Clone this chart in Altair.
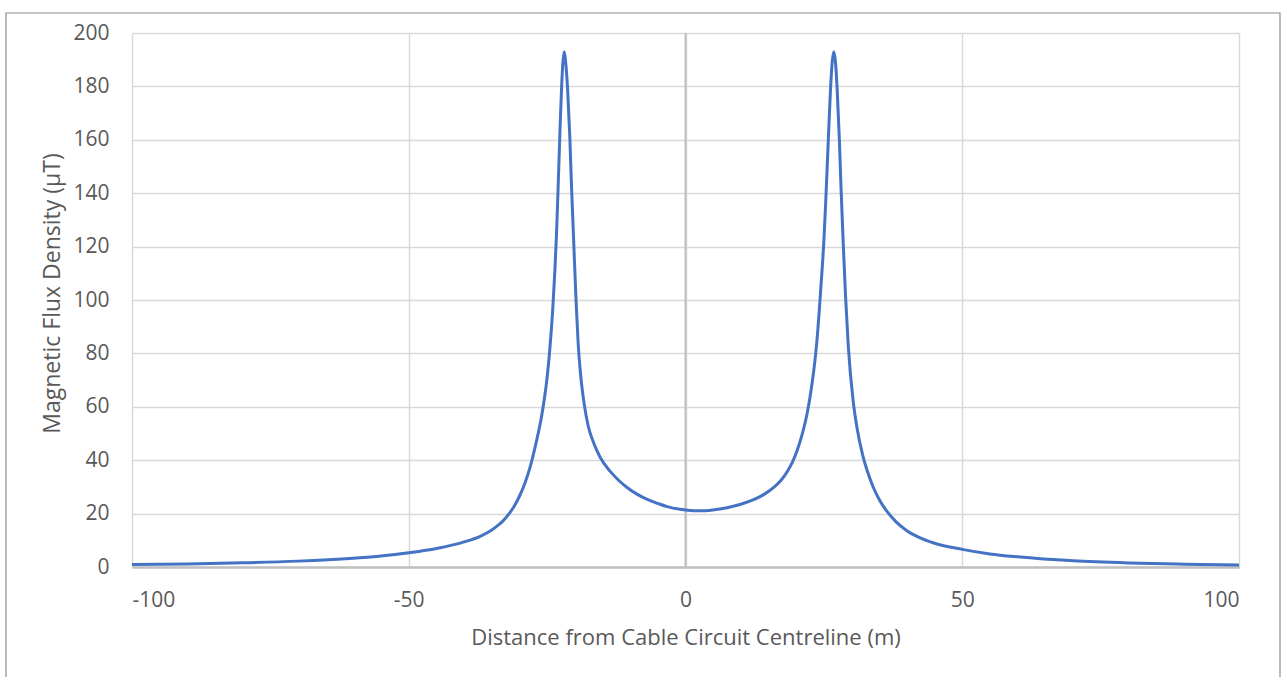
import altair as alt
import pandas as pd

# Distance from cable circuit centreline (m)
distance = [
    -100, -90, -80, -70, -60, -55, -50, -45, -40, -37, -35, -34, -33, -32, -31, -30,
    -29, -28, -27, -26, -25.5, -25, -24.5, -24, -23.6, -23.3, -23, -22.7, -22.4,
    -22.15, -21.9,
    -21.65, -21.3, -20.9, -20.6, -20.2, -19.8, -19.4, -18.9, -18.3, -17.6, -16.6,
    -15.4, -13.6, -12, -10.5, -8.7, -6.9, -5, -3.3, -1, 1.5, 3.5, 5.5, 7.5, 10,
    12.3, 14.2, 16, 17.3, 18.4, 19.3, 20.2, 21.2, 22, 22.6, 23.2, 23.8, 24.3,
    24.7, 25.0, 25.4, 25.8, 26.2, 26.5, 26.8,
    27.1, 27.4, 27.8, 28.1, 28.5, 28.9, 29.4, 30.3, 31, 32, 33, 34, 35, 36.4, 38,
    40, 42, 45, 50, 55, 60, 70, 80, 90, 100,
]

# Magnetic flux density (uT)
flux = [
    0.9, 1.15, 1.55, 2.2, 3.3, 4.1, 5.3, 6.9, 9.4, 11.6, 13.9, 15.4, 17.2, 19.6, 22.6, 26.5,
    31.5, 38, 46.5, 56.5, 63, 71, 82, 96, 111, 125, 143, 162, 179,
    189, 193,
    189, 179, 161, 143, 122, 101, 84, 71, 61, 53, 46.5,
    41, 35.8, 32.3, 29.7, 27.2, 25.3, 23.8, 22.6, 21.6, 21.1, 21.1, 21.5, 22.2, 23.5,
    25.2, 27.2, 29.9, 32.6, 35.8, 39.2, 43.8, 50.6, 57.8, 65, 74, 86, 100,
    112, 122, 140, 160, 179, 189, 193,
    189, 179, 160, 142, 121, 102, 83, 62, 52, 42, 35, 29.5, 25.3, 20.8, 17,
    13.6, 11.3, 8.9, 6.6, 4.9, 3.8, 2.3, 1.5, 1.05, 0.75,
]

x_ticks = [-100, -50, 0, 50, 100]
y_ticks = [0, 20, 40, 60, 80, 100, 120, 140, 160, 180, 200]
axis_zero = [0]

df = pd.DataFrame({"x": distance, "y": flux})
zero_df = pd.DataFrame({"x": axis_zero})

FONT = "Open Sans"
TXT = "#595959"

x_scale = alt.Scale(domain=[-100, 100], nice=False, zero=False)
y_scale = alt.Scale(domain=[0, 200], nice=False)

frame = alt.Chart(zero_df).mark_rect(
    filled=False, stroke="#8c8c8c", strokeWidth=1.2
).encode(
    x=alt.value(-126), x2=alt.value(1148), y=alt.value(-20), y2=alt.value(680)
)

line = alt.Chart(df).mark_line(
    color="#4472C4", strokeWidth=3, interpolate="monotone"
).encode(
    x=alt.X(
        "x:Q",
        scale=x_scale,
        axis=alt.Axis(
            values=x_ticks,
            labelExpr="datum.value < 0 ? '-' + abs(datum.value) : '' + datum.value",
            title="Distance from Cable Circuit Centreline (m)",
            grid=True,
            gridColor="#d9d9d9",
            gridWidth=1.5,
            domain=True,
            domainColor="#bfbfbf",
            domainWidth=2.5,
            ticks=False,
            labelPadding=22,
            labelFont=FONT,
            labelFontSize=21,
            labelColor=TXT,
            titleFont=FONT,
            titleFontSize=22,
            titleFontWeight="normal",
            titleColor=TXT,
            titleY=70,
            titleBaseline="middle",
        ),
    ),
    y=alt.Y(
        "y:Q",
        scale=y_scale,
        axis=alt.Axis(
            values=y_ticks,
            title="Magnetic Flux Density (μT)",
            grid=True,
            gridColor="#d9d9d9",
            gridWidth=1.5,
            domain=False,
            ticks=False,
            labelPadding=23,
            labelFont=FONT,
            labelFontSize=21,
            labelColor=TXT,
            titleFont=FONT,
            titleFontSize=23,
            titleFontWeight="normal",
            titleColor=TXT,
            titleX=-80,
            titleY=260,
            titleAngle=-90,
            titleBaseline="middle",
            titleAlign="center",
        ),
    ),
)

zero_rule = alt.Chart(zero_df).mark_rule(color="#bfbfbf", strokeWidth=2).encode(
    x=alt.X("x:Q", scale=x_scale)
)

chart = (
    alt.layer(frame, zero_rule, line)
    .properties(
        width=1107,
        height=534,
        autosize=alt.AutoSizeParams(type="none"),
        padding={"left": 132, "top": 33, "right": 44, "bottom": 110},
        background="white",
    )
    .configure_view(stroke=None)
)

chart.save("out.html", embed_options={"renderer": "svg", "actions": False})
